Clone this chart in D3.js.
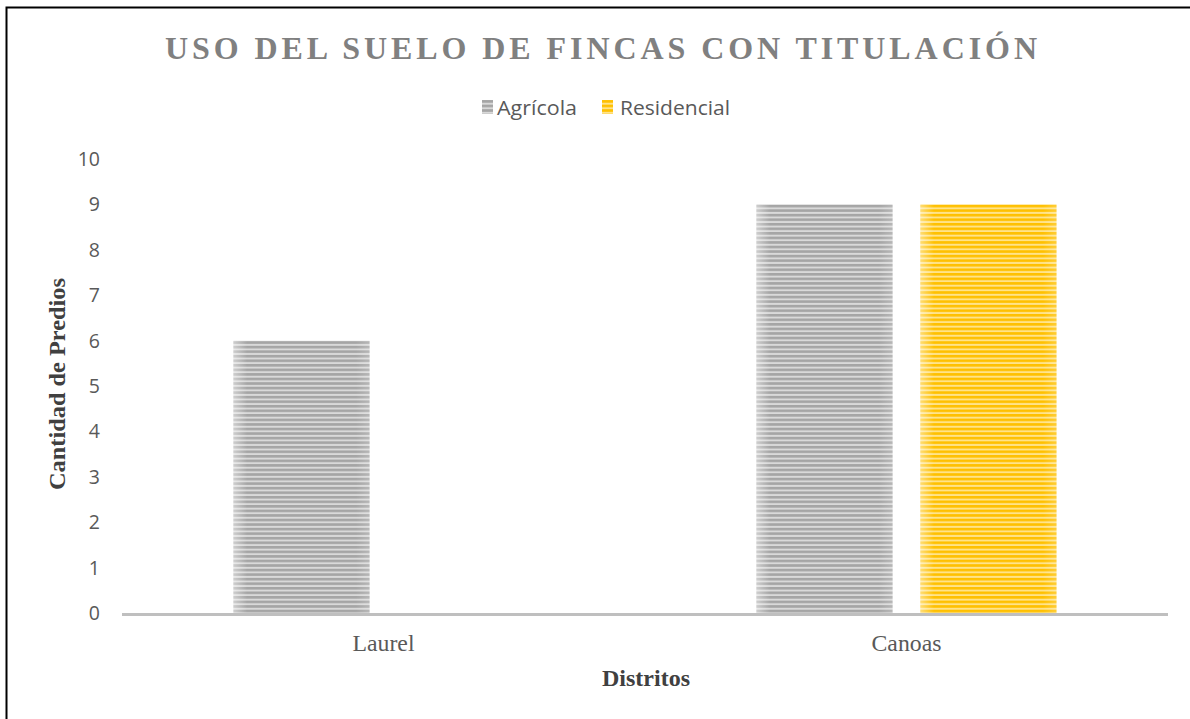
<!DOCTYPE html>
<html>
<head>
<meta charset="utf-8">
<script src="https://cdn.jsdelivr.net/npm/d3@7"></script>
<style>
  body { margin: 0; background: #fff; }
  svg { display: block; }
</style>
</head>
<body>
<div id="chart"></div>
<script>
// data
var distritos = ["Laurel", "Canoas"];
var series = ["Agrícola", "Residencial"];
var agricola = [6, 9];
var residencial = [0, 9];
var yTicks = [0, 1, 2, 3, 4, 5, 6, 7, 8, 9, 10];

var width = 1190, height = 719;
var margin = {top: 159, right: 22, bottom: 105, left: 122};
var serif = "'Liberation Serif', 'Times New Roman', serif";
var sans = "'Open Sans', 'Noto Sans', sans-serif";

var svg = d3.select("#chart")
        .append("svg")
        .attr("width", width)
        .attr("height", height);

// frame (only top and left visible in the picture)
svg.append("rect")
        .attr("x", 6.5)
        .attr("y", 7.5)
        .attr("width", width + 20)
        .attr("height", height + 20)
        .attr("fill", "none")
        .attr("stroke", "#000")
        .attr("stroke-width", 2);

// striped fills
var defs = svg.append("defs");
function stripes(id, dark, light) {
    var p = defs.append("pattern")
            .attr("id", id)
            .attr("patternUnits", "userSpaceOnUse")
            .attr("width", 8)
            .attr("height", 4.55);
    p.append("rect").attr("width", 8).attr("height", 4.55).attr("fill", light);
    p.append("rect").attr("y", 0).attr("width", 8).attr("height", 2.6).attr("fill", dark);
}
stripes("stripeGray", "#a5a5a5", "#d9d9d9");
stripes("stripeGold", "#ffc000", "#ffe38a");

// soft edge shading on the bars
var grad = defs.append("linearGradient").attr("id", "edge");
grad.append("stop").attr("offset", "0").attr("stop-color", "#fff").attr("stop-opacity", 0.45);
grad.append("stop").attr("offset", "0.1").attr("stop-color", "#fff").attr("stop-opacity", 0);
grad.append("stop").attr("offset", "0.9").attr("stop-color", "#fff").attr("stop-opacity", 0);
grad.append("stop").attr("offset", "1").attr("stop-color", "#fff").attr("stop-opacity", 0.2);

var fills = {"Agrícola": "url(#stripeGray)", "Residencial": "url(#stripeGold)"};

var xc = d3.scalePoint()
        .domain(distritos)
        .range([margin.left, width - margin.right])
        .padding(0.5);
var groupW = 300;
var x1 = d3.scaleBand()
        .domain(series)
        .range([-groupW / 2, groupW / 2])
        .paddingInner(0.17);

var y = d3.scaleLinear()
        .domain([0, 10])
        .range([height - margin.bottom - 0.5, margin.top]);

// title
svg.append("text")
        .attr("x", 601)
        .attr("y", 59)
        .attr("text-anchor", "middle")
        .attr("textLength", 872)
        .attr("lengthAdjust", "spacing")
        .style("font-family", serif)
        .style("font-weight", "bold")
        .style("font-size", "32px")
        .attr("fill", "#808080")
        .text("USO DEL SUELO DE FINCAS CON TITULACIÓN");

// legend
var legend = svg.append("g");
var legendPos = [{x: 482, tx: 497, w: 80}, {x: 602, tx: 620, w: 110}];
series.forEach(function (s, i) {
    legend.append("rect")
            .attr("x", legendPos[i].x)
            .attr("y", 100)
            .attr("width", 11)
            .attr("height", 14)
            .attr("fill", fills[s]);
    legend.append("text")
            .attr("x", legendPos[i].tx)
            .attr("y", 115)
            .attr("textLength", legendPos[i].w)
            .attr("lengthAdjust", "spacingAndGlyphs")
            .style("font-family", sans)
            .style("font-size", "20px")
            .attr("fill", "#595959")
            .text(s);
});

// y axis labels
var yAxis = d3.axisLeft(y).tickValues(yTicks).tickSize(0).tickPadding(22);
svg.append("g")
        .attr("transform", "translate(" + margin.left + ",0)")
        .call(yAxis)
        .call(function (g) { g.select(".domain").remove(); })
        .selectAll("text")
        .style("font-family", sans)
        .style("font-size", "19.5px")
        .attr("fill", "#595959");

// bars
var rows = distritos.map(function (d, i) {
    return {distrito: d, values: [agricola[i], residencial[i]]};
});
var groups = svg.selectAll("g.grupo")
        .data(rows)
        .enter()
        .append("g")
        .attr("class", "grupo")
        .attr("transform", function (d) {
            return "translate(" + xc(d.distrito) + ",0)";
        });
groups.selectAll("g.bar")
        .data(function (d) {
            return series.map(function (s, j) { return {serie: s, value: d.values[j]}; });
        })
        .enter()
        .filter(function (d) { return d.value > 0; })
        .append("g")
        .attr("class", "bar")
        .each(function (d) {
            var g = d3.select(this);
            g.append("rect")
                    .attr("x", x1(d.serie))
                    .attr("y", y(d.value))
                    .attr("width", x1.bandwidth())
                    .attr("height", y(0) - y(d.value))
                    .attr("fill", fills[d.serie]);
            g.append("rect")
                    .attr("x", x1(d.serie))
                    .attr("y", y(d.value))
                    .attr("width", x1.bandwidth())
                    .attr("height", y(0) - y(d.value))
                    .attr("fill", "url(#edge)");
        });

// x axis line
svg.append("line")
        .attr("x1", margin.left)
        .attr("x2", width - margin.right)
        .attr("y1", y(0) + 1)
        .attr("y2", y(0) + 1)
        .attr("stroke", "#bfbfbf")
        .attr("stroke-width", 3);

// x labels
var catW = {"Laurel": 62, "Canoas": 70};
svg.selectAll("text.cat")
        .data(distritos)
        .enter()
        .append("text")
        .attr("class", "cat")
        .attr("x", function (d) { return xc(d); })
        .attr("y", 651)
        .attr("text-anchor", "middle")
        .attr("textLength", function (d) { return catW[d]; })
        .attr("lengthAdjust", "spacingAndGlyphs")
        .style("font-family", serif)
        .style("font-size", "23px")
        .attr("fill", "#595959")
        .text(function (d) { return d; });

// axis titles
svg.append("text")
        .attr("x", 646)
        .attr("y", 686)
        .attr("text-anchor", "middle")
        .attr("textLength", 88)
        .attr("lengthAdjust", "spacingAndGlyphs")
        .style("font-family", serif)
        .style("font-weight", "bold")
        .style("font-size", "23px")
        .attr("fill", "#404040")
        .text("Distritos");

svg.append("text")
        .attr("transform", "translate(65,384) rotate(-90)")
        .attr("text-anchor", "middle")
        .attr("textLength", 212)
        .attr("lengthAdjust", "spacingAndGlyphs")
        .style("font-family", serif)
        .style("font-weight", "bold")
        .style("font-size", "23px")
        .attr("fill", "#404040")
        .text("Cantidad de Predios");
</script>
</body>
</html>
